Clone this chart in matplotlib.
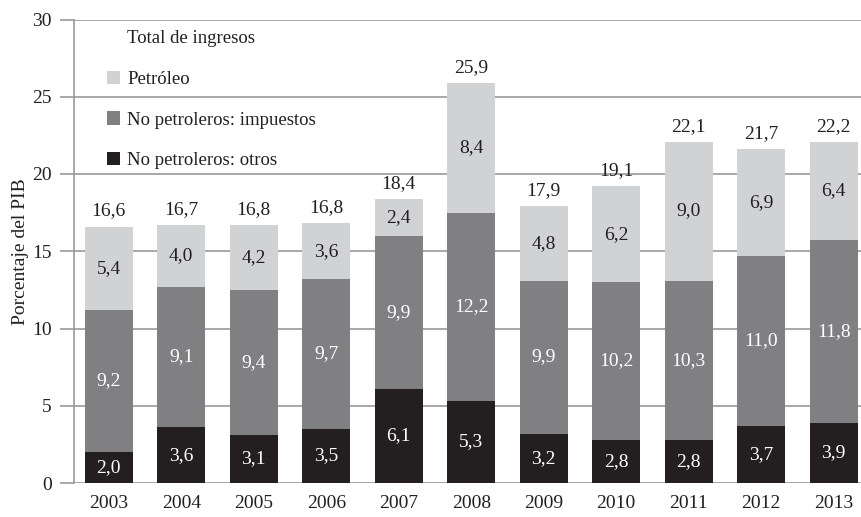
import numpy as np
import matplotlib
matplotlib.use("Agg")
import matplotlib.pyplot as plt
from matplotlib.patches import Patch

years = ["2003", "2004", "2005", "2006", "2007", "2008", "2009", "2010", "2011", "2012", "2013"]
otros = [2.0, 3.6, 3.1, 3.5, 6.1, 5.3, 3.2, 2.8, 2.8, 3.7, 3.9]
impuestos = [9.2, 9.1, 9.4, 9.7, 9.9, 12.2, 9.9, 10.2, 10.3, 11.0, 11.8]
petroleo = [5.4, 4.0, 4.2, 3.6, 2.4, 8.4, 4.8, 6.2, 9.0, 6.9, 6.4]
totales = [16.6, 16.7, 16.8, 16.8, 18.4, 25.9, 17.9, 19.1, 22.1, 21.7, 22.2]

c_otros = "#231f20"
c_imp = "#808083"
c_pet = "#d1d2d4"
c_grid = "#9a9a9a"

plt.rcParams["font.family"] = ["Liberation Serif", "DejaVu Serif"]

fig = plt.figure(figsize=(8.62, 5.17), dpi=100)
ax = fig.add_axes([74 / 862, 34 / 517, (862 - 74) / 862, (484.5 - 21) / 517])

x = np.arange(len(years))
w = 0.66
otros = np.array(otros)
impuestos = np.array(impuestos)
petroleo = np.array(petroleo)

ax.bar(x, otros, w, color=c_otros, zorder=3)
ax.bar(x, impuestos, w, bottom=otros, color=c_imp, zorder=3)
ax.bar(x, petroleo, w, bottom=otros + impuestos, color=c_pet, zorder=3)

def fmt(v):
    return f"{v:.1f}".replace(".", ",")

fs = 14
for i in range(len(years)):
    ax.text(x[i], otros[i] / 2, fmt(otros[i]), ha="center", va="center",
            color="white", fontsize=fs, zorder=4)
    ax.text(x[i], otros[i] + impuestos[i] / 2, fmt(impuestos[i]), ha="center",
            va="center", color="white", fontsize=fs, zorder=4)
    ax.text(x[i], otros[i] + impuestos[i] + petroleo[i] / 2, fmt(petroleo[i]),
            ha="center", va="center", color="#231f20", fontsize=fs, zorder=4)
    top = otros[i] + impuestos[i] + petroleo[i]
    ax.annotate(fmt(totales[i]), (x[i], top), xytext=(0, 5), textcoords="offset points",
                ha="center", va="bottom", color="#231f20", fontsize=fs)

ax.set_xlim(-0.48, 10.39)
ax.set_ylim(0, 30)
ax.set_yticks([0, 5, 10, 15, 20, 25, 30])
ax.set_xticks(x)
ax.set_xticklabels(years)
ax.yaxis.grid(True, color=c_grid, linewidth=1.2, zorder=0)
ax.set_axisbelow(True)
for s in ["top", "right", "bottom"]:
    ax.spines[s].set_visible(False)
ax.spines["left"].set_color(c_grid)
ax.spines["left"].set_linewidth(1.2)
ax.tick_params(axis="y", length=10, width=1.2, color=c_grid, labelsize=14,
               labelcolor="#231f20", pad=6)
ax.tick_params(axis="x", length=0, labelsize=14, labelcolor="#231f20", pad=9)
ax.set_ylabel("Porcentaje del PIB", fontsize=14, color="#231f20", labelpad=2)

handles = [Patch(facecolor="none", edgecolor="none"),
           Patch(facecolor=c_pet), Patch(facecolor=c_imp), Patch(facecolor=c_otros)]
labels = ["Total de ingresos", "Petróleo", "No petroleros: impuestos", "No petroleros: otros"]
leg = ax.legend(handles, labels, loc="upper left", bbox_to_anchor=(0.025, 1.005),
                frameon=False, fontsize=13.5, handlelength=0.7, handleheight=0.7,
                handletextpad=0.4, labelspacing=1.25, borderaxespad=0.3)
for t in leg.get_texts():
    t.set_color("#231f20")

fig.savefig("out.png", dpi=100)
